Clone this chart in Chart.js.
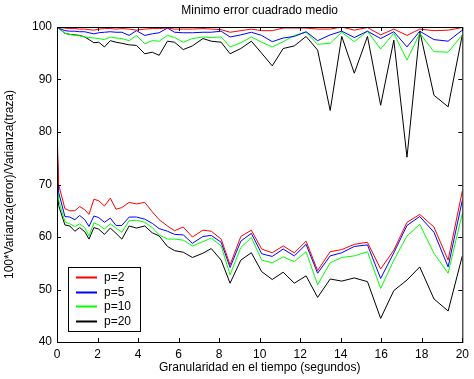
<!DOCTYPE html>
<html>
<head>
    <meta charset="UTF-8">
    <title>Minimo error cuadrado medio</title>
    <script src="https://cdn.jsdelivr.net/npm/chart.js@4.4.0/dist/chart.umd.min.js"></script>
    <style>
        body { margin: 0; background: #fff; }
    </style>
</head>
<body>
    <canvas id="grafico" width="474" height="379"></canvas>
    <script>
        // granularidad (segundos)
        let tiempo = [0, 0.08, 0.39, 0.63, 0.88, 1.12, 1.37, 1.58, 1.82, 2.06,
            2.34, 2.63, 2.91, 3.2, 3.56, 3.92, 4.33, 4.7, 5.04, 5.45,
            5.8, 6.23, 6.68, 7.2, 7.61, 8.1, 8.54, 9.07, 9.59, 10.1,
            10.62, 11.16, 11.71, 12.29, 12.86, 13.48, 14.05, 14.67, 15.32, 15.97,
            16.62, 17.27, 17.9, 18.6, 19.3, 20];

        let etiquetas = ['p=2', 'p=5', 'p=10', 'p=20'];
        let colores = ['#ff0000', '#0000ff', '#00ff00', '#000000'];
        let ejeX = [0, 20, 2];
        let ejeY = [40, 100, 10];

        // curvas de arriba
        let p2Alto = [100, 99.9, 99.8, 99.7, 99.7, 99.6, 99.6, 99.5, 99.4, 99.6,
            99.7, 99.7, 99.6, 99.7, 99.6, 99.4, 99.6, 99.7, 99.7, 99.8,
            99.6, 99.6, 99.6, 99.7, 99.6, 99.5, 99.0, 99.3, 99.6, 99.3,
            99.3, 99.8, 99.8, 99.8, 99.6, 99.6, 100, 99.4, 99.9, 98.5,
            99.6, 98.4, 99.6, 99.3, 99.4, 99.9];
        let p5Alto = [100, 99.8, 99.3, 99.2, 99.2, 99.1, 99.1, 98.9, 98.7, 98.9,
            99.0, 99.1, 99.0, 99.0, 98.4, 99.3, 98.4, 98.7, 98.9, 99.8,
            99.0, 98.9, 98.9, 99.0, 99.0, 99.2, 98.1, 98.5, 99.0, 98.4,
            97.2, 97.9, 98.2, 99.1, 97.4, 98.5, 99.2, 98.0, 99.2, 97.8,
            99.1, 96.2, 99.2, 97.6, 97.3, 99.4];
        let p10Alto = [100, 99.7, 98.8, 98.6, 98.4, 98.3, 98.1, 98.0, 97.9, 97.8,
            97.6, 98.1, 97.9, 97.8, 97.4, 98.4, 96.8, 97.4, 97.3, 98.4,
            98.0, 97.1, 97.8, 98.1, 98.0, 98.1, 96.2, 97.0, 98.1, 97.1,
            96.2, 97.2, 98.4, 99.0, 96.7, 96.9, 99.0, 97.2, 99.2, 95.8,
            98.8, 93.7, 98.8, 95.3, 95.2, 98.5];
        let p20Alto = [100, 99.8, 98.8, 98.6, 98.5, 98.4, 98.1, 97.6, 97.0, 97.1,
            96.2, 97.4, 97.1, 96.9, 96.6, 96.5, 94.9, 95.2, 94.6, 97.3,
            97.1, 95.7, 96.4, 97.8, 97.3, 97.1, 94.9, 95.9, 97.3, 95.0,
            92.6, 95.9, 96.4, 98.2, 95.6, 84.1, 98.2, 91.2, 98.2, 85.1,
            97.5, 75.2, 99.2, 87.0, 84.8, 98.5];

        // curvas de abajo
        let p2Bajo = [81.0, 70.0, 65.4, 65.0, 65.0, 65.8, 65.2, 64.3, 67.2, 66.9,
            65.9, 67.4, 65.3, 65.6, 66.6, 66.3, 66.6, 64.8, 63.3, 62.1,
            61.2, 61.9, 60.0, 61.3, 61.1, 59.6, 54.7, 60.1, 61.3, 57.7,
            57.0, 58.3, 57.0, 59.2, 53.6, 57.2, 57.6, 58.6, 59.0, 53.9,
            57.5, 62.8, 64.3, 61.9, 55.6, 68.8];
        let p5Bajo = [79.0, 68.5, 63.9, 63.8, 63.3, 64.1, 63.3, 62.0, 64.0, 63.7,
            62.8, 63.6, 62.2, 62.2, 63.8, 63.8, 63.4, 62.6, 61.6, 61.1,
            60.5, 60.4, 58.8, 60.1, 60.3, 59.0, 54.2, 59.2, 60.7, 56.8,
            56.3, 57.7, 56.4, 58.6, 53.1, 56.4, 57.0, 58.2, 58.5, 52.1,
            57.0, 62.2, 63.9, 60.9, 54.3, 67.0];
        let p10Bajo = [78.0, 67.0, 62.9, 62.5, 62.0, 62.5, 61.8, 60.2, 62.7, 62.3,
            61.5, 62.5, 61.7, 60.9, 63.1, 63.2, 62.8, 61.8, 60.4, 59.6,
            59.6, 59.4, 58.3, 59.1, 59.8, 58.3, 52.8, 58.0, 59.9, 55.6,
            55.1, 56.2, 55.3, 57.2, 50.9, 55.1, 56.1, 56.4, 57.2, 50.2,
            55.6, 60.2, 62.4, 56.9, 53.1, 64.5];
        let p20Bajo = [77.5, 66.0, 62.3, 62.1, 61.1, 61.8, 61.0, 59.6, 61.8, 61.5,
            60.5, 61.7, 60.7, 59.6, 62.1, 61.7, 62.1, 60.8, 60.2, 58.2,
            57.4, 57.1, 56.1, 56.9, 57.8, 55.6, 51.2, 55.6, 57.0, 53.4,
            51.9, 53.3, 51.2, 52.6, 48.5, 52.0, 51.6, 52.2, 51.5, 44.5,
            49.8, 51.8, 54.3, 48.2, 45.9, 56.4];

        let altos = [p2Alto, p5Alto, p10Alto, p20Alto];
        let bajos = [p2Bajo, p5Bajo, p10Bajo, p20Bajo];

        const fuente = 'Liberation Sans, Arial, Helvetica, sans-serif';

        function serie(valores, i) {
            return {
                label: etiquetas[i],
                data: tiempo.map((t, k) => ({ x: t, y: valores[k] })),
                borderColor: colores[i],
                borderWidth: 1,
                pointRadius: 0,
                tension: 0,
                fill: false
            };
        }

        let datasets = [];
        for (let i = 0; i < 4; i++) {
            datasets.push(serie(altos[i], i));
            datasets.push(serie(bajos[i], i));
        }

        // caja de ejes con marcas hacia dentro y leyenda
        const caja = {
            id: 'caja',
            afterDraw(chart) {
                const ctx = chart.ctx;
                const a = chart.chartArea;
                const sx = chart.scales.x;
                const sy = chart.scales.y;
                ctx.save();
                ctx.strokeStyle = '#000';
                ctx.lineWidth = 1;
                ctx.strokeRect(a.left + 0.5, a.top + 0.5, a.right - a.left, a.bottom - a.top);
                ctx.beginPath();
                for (let v = ejeX[0]; v <= ejeX[1]; v += ejeX[2]) {
                    const px = Math.round(sx.getPixelForValue(v)) + 0.5;
                    ctx.moveTo(px, a.bottom); ctx.lineTo(px, a.bottom - 4);
                    ctx.moveTo(px, a.top); ctx.lineTo(px, a.top + 4);
                }
                for (let v = ejeY[0]; v <= ejeY[1]; v += ejeY[2]) {
                    const py = Math.round(sy.getPixelForValue(v)) + 0.5;
                    ctx.moveTo(a.left, py); ctx.lineTo(a.left + 4, py);
                    ctx.moveTo(a.right, py); ctx.lineTo(a.right - 4, py);
                }
                ctx.stroke();
                ctx.restore();

                // leyenda
                const lx = Math.round(a.left) + 11, ly = Math.round(a.bottom) - 75, lw = 72, lh = 64;
                ctx.save();
                ctx.fillStyle = '#fff';
                ctx.fillRect(lx, ly, lw, lh);
                ctx.strokeStyle = '#000';
                ctx.lineWidth = 1;
                ctx.strokeRect(lx + 0.5, ly + 0.5, lw, lh);
                ctx.font = '12px ' + fuente;
                ctx.textBaseline = 'middle';
                for (let i = 0; i < etiquetas.length; i++) {
                    const y = Math.round(ly + 10 + i * 14.7);
                    ctx.fillStyle = chart.data.datasets[2 * i + 1].borderColor;
                    ctx.fillRect(lx + 8, y - 0.5, 21, 2);
                    ctx.fillStyle = '#000';
                    ctx.fillText(etiquetas[i], lx + 36, y + 0.5);
                }
                ctx.restore();
            }
        };

        new Chart(document.getElementById('grafico'), {
            type: 'line',
            data: { datasets: datasets },
            plugins: [caja],
            options: {
                responsive: false,
                animation: false,
                devicePixelRatio: 1,
                layout: { padding: { left: 0, right: 7, top: 0, bottom: 0 } },
                plugins: {
                    legend: { display: false },
                    tooltip: { enabled: false },
                    title: {
                        display: true,
                        fullSize: false,
                        text: 'Minimo error cuadrado medio',
                        color: '#000',
                        font: { family: fuente, size: 12, weight: 'normal' },
                        padding: { top: 3, bottom: 9.6 }
                    }
                },
                scales: {
                    x: {
                        type: 'linear',
                        min: ejeX[0],
                        max: ejeX[1],
                        grid: { display: false, drawTicks: false },
                        border: { display: false },
                        ticks: {
                            stepSize: ejeX[2],
                            color: '#000',
                            padding: 5,
                            maxRotation: 0,
                            font: { family: fuente, size: 12 }
                        },
                        title: {
                            display: true,
                            text: 'Granularidad en el tiempo (segundos)',
                            color: '#000',
                            font: { family: fuente, size: 12 },
                            padding: { top: 0, bottom: 4 }
                        },
                        afterFit: s => { s.height = 37; }
                    },
                    y: {
                        min: ejeY[0],
                        max: ejeY[1],
                        grid: { display: false, drawTicks: false },
                        border: { display: false },
                        ticks: {
                            stepSize: ejeY[2],
                            color: '#000',
                            padding: 5,
                            font: { family: fuente, size: 12 }
                        },
                        title: {
                            display: true,
                            text: '100*Varianza(error)/Varianza(traza)',
                            color: '#000',
                            font: { family: fuente, size: 12 },
                            padding: { top: 2, bottom: 0 }
                        },
                        afterFit: s => { s.width = 57; }
                    }
                }
            }
        });
    </script>
</body>
</html>
